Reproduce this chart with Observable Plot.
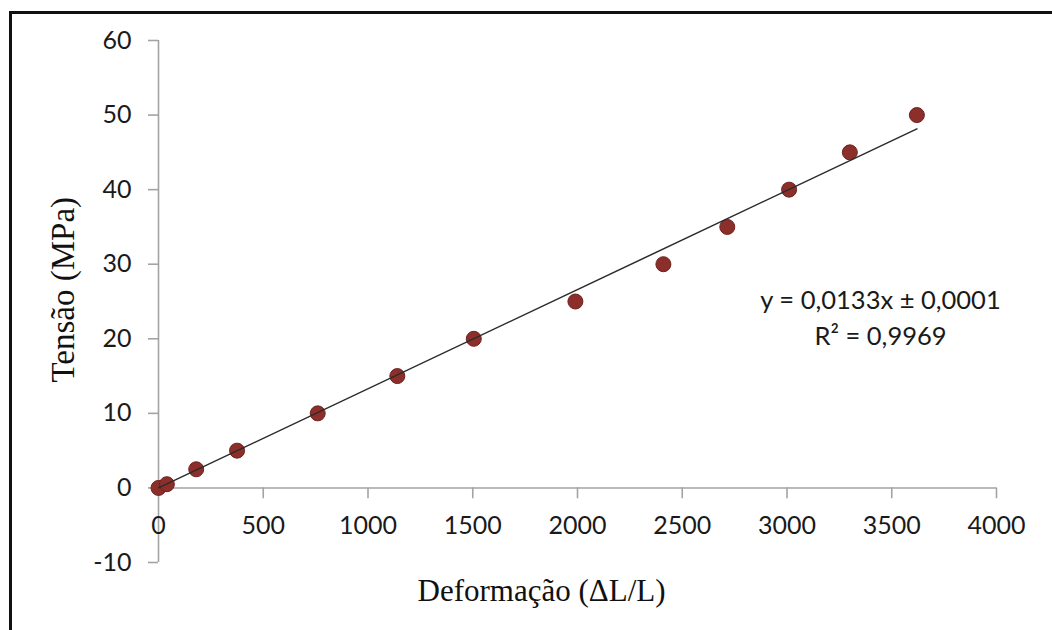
<!DOCTYPE html>
<html><head><meta charset="utf-8">
<script src="https://cdn.jsdelivr.net/npm/d3@7"></script>
<script src="https://cdn.jsdelivr.net/npm/@observablehq/plot@0.6"></script>
<style>
html,body{margin:0;padding:0;background:#fff;overflow:hidden;}
#wrap{position:relative;width:1052px;height:630px;}
#frame{position:absolute;left:9px;top:11px;width:1100px;height:700px;border-top:3px solid #111;border-left:3px solid #111;}
#chart{position:absolute;left:0;top:0;}
</style></head><body>
<div id="wrap"><div id="frame"></div><div id="chart"></div></div>
<script>
// Data
const deformacao = [0, 40, 180, 375, 760, 1140, 1505, 1990, 2410, 2715, 3010, 3300, 3620];
const tensao     = [0, 0.5, 2.5, 5, 10, 15, 20, 25, 30, 35, 40, 45, 50];
const xTicks = [0, 500, 1000, 1500, 2000, 2500, 3000, 3500, 4000];
const yTicks = [-10, 0, 10, 20, 30, 40, 50, 60];
const trendSlope = 0.0133;
const trendIntercept = 0.0001;
const equationLines = ["y = 0,0133x ± 0,0001", "R² = 0,9969"];
const xLabel = "Deformação (ΔL/L)";
const yLabel = "Tensão (MPa)";

const points = deformacao.map((x, i) => ({x, y: tensao[i]}));
const xExtent = d3.extent(deformacao);
const trend = xExtent.map(x => ({x, y: trendSlope * x + trendIntercept}));

const axisGray = "#a3a3a3";
const textColor = "#1a1a1a";
const tickLenUnits = 1.45;

const chart = Plot.plot({
  width: 1052,
  height: 630,
  marginLeft: 158,
  marginRight: 56,
  marginTop: 40,
  marginBottom: 68,
  style: {fontFamily: "Lato, 'Open Sans', sans-serif", fontSize: "25px", color: textColor, background: "transparent"},
  x: {domain: [0, 4000], axis: null},
  y: {domain: [-10, 60], axis: null},
  marks: [
    // axis lines
    Plot.ruleX([0], {stroke: axisGray, strokeWidth: 1.6}),
    Plot.ruleY([0], {stroke: axisGray, strokeWidth: 1.6}),
    // y ticks and labels
    Plot.axisY(yTicks, {anchor: "left", tickSize: 10, text: null, stroke: axisGray, strokeWidth: 1.6, label: null}),
    Plot.axisY(yTicks, {anchor: "left", tickSize: 0, tickPadding: 27, label: null, tickFormat: d => String(d), fill: textColor, fontSize: 25, fontFamily: "Lato"}),
    // x ticks (hang below y = 0)
    Plot.ruleX(xTicks.filter(d => d !== 0), {x: d => d, y1: 0, y2: -tickLenUnits, stroke: axisGray, strokeWidth: 1.6}),
    Plot.text(xTicks, {x: d => d, y: 0, dy: 38, text: d => String(d), fill: textColor, fontSize: 25, fontFamily: "Lato", lineAnchor: "middle"}),
    // data
    Plot.dot(points, {x: "x", y: "y", r: 7.5, fill: "#8c2f2b", stroke: "#6e211e", strokeWidth: 1}),
    Plot.line(trend, {x: "x", y: "y", stroke: "#2b2b2b", strokeWidth: 1.5}),
    // equation
    Plot.text([equationLines.join("\n")], {frameAnchor: "top-left", dx: 722, dy: 275, textAnchor: "middle", lineAnchor: "middle", lineHeight: 1.4, fill: textColor, fontSize: 25.5, fontFamily: "Lato"}),
    // axis titles
    Plot.text([xLabel], {frameAnchor: "bottom", dx: -36, dy: 29, lineAnchor: "middle", fill: "#111", fontSize: 31, fontFamily: "'Liberation Serif', serif"}),
    Plot.text([yLabel], {frameAnchor: "left", dx: -95, dy: 81, rotate: -90, lineAnchor: "middle", fill: "#111", fontSize: 33, fontFamily: "'Liberation Serif', serif"})
  ]
});
document.getElementById("chart").appendChild(chart);
</script>
</body></html>
